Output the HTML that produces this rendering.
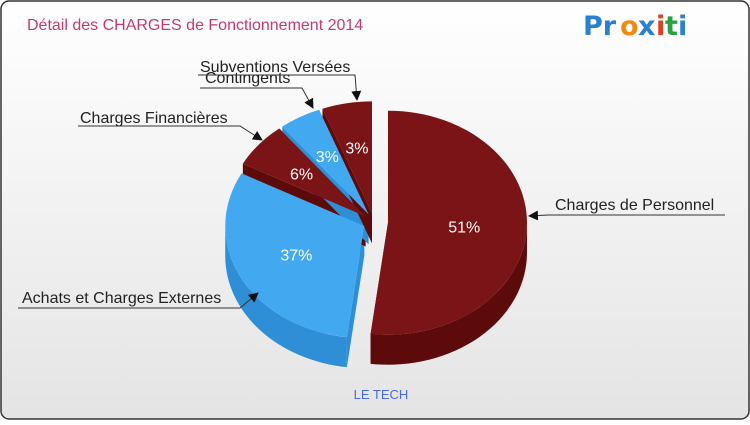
<!DOCTYPE html>
<html><head><meta charset="utf-8"><style>
body{margin:0;width:750px;height:420px;overflow:hidden;font-family:"Liberation Sans",sans-serif}
</style></head><body>
<svg id="chart" width="750" height="420" xmlns="http://www.w3.org/2000/svg">
<defs><linearGradient id="bg" x1="0" y1="0" x2="0" y2="1"><stop offset="0" stop-color="#ffffff"/><stop offset="1" stop-color="#e4e4e4"/></linearGradient>
<marker id="arr" markerWidth="10" markerHeight="10" refX="9" refY="5" orient="auto" markerUnits="userSpaceOnUse"><path d="M0,0 L10,5 L0,10 Z" fill="#111"/></marker></defs>
<rect x="1" y="1" width="748" height="418" rx="8" fill="url(#bg)" stroke="#333" stroke-width="1.5"/>
<text x="27" y="30" font-size="16" fill="#c33a72">Détail des CHARGES de Fonctionnement 2014</text>
<g font-size="27" font-weight="bold" font-family="'DejaVu Sans',sans-serif">
<text x="583" y="35" fill="#2a7fd0">Pr</text><text x="620" y="35" fill="#f08a10">o</text><text x="638" y="35" fill="#2a7fd0">x</text><text x="656" y="35" fill="#e04020">i</text><text x="665" y="35" fill="#2aa040">t</text><text x="678" y="35" fill="#2a7fd0">i</text></g>
<g id="slices"></g>
<g id="labels"></g>
<text x="381" y="399" font-size="13" fill="#4a6de0" text-anchor="middle">LE TECH</text>
</svg>
<script>
const categories=["Charges de Personnel","Achats et Charges Externes","Charges Financières","Contingents","Subventions Versées"];
const values=[51,37,6,3,3];
const pctLabels=["51%","37%","6%","3%","3%"];
const colors=["#7a1416","#42a9f0","#7a1416","#42a9f0","#7a1416"];
const sides=["#5c0a0a","#2f8fd6","#5c0a0a","#2f8fd6","#5c0a0a"];
const NS="http://www.w3.org/2000/svg";
const cx=374,cy=222,rx=139,ry=112,dep=30,K=0.5;
const total=values.reduce((a,b)=>a+b,0);
const g=document.getElementById('slices');
// perspective-like warp of data angle
function W(t){return Math.atan2(Math.sin(t)*K,Math.cos(t));}
function unwrap(t,ref){let w=W(t);while(w<ref-1e-9)w+=2*Math.PI;return w;}
function P(t,ox,oy){return [ox+cx+rx*Math.cos(t),oy+cy+ry*Math.sin(t)];}
function mk(d,fill,name){const p=document.createElementNS(NS,'path');p.setAttribute('d',d);p.setAttribute('fill',fill);


g.appendChild(p);return p;}
let a=-Math.PI/2;const sl=[];let prev=-Math.PI/2;
values.forEach((v,i)=>{const d0=a,d1=a+v/total*2*Math.PI;a=d1;
const a0=prev,a1=unwrap(d1,a0+1e-6);prev=a1;const m=(a0+a1)/2;const ex=i==0?14:11;
sl.push({a0,a1,m,ox:ex*Math.cos(m),oy:ex*Math.sin(m)*0.8});});
sl.forEach((s,i)=>{const{a0,a1,ox,oy}=s;const c=[cx+ox,cy+oy];
[a0,a1].forEach(t=>{const p=P(t,ox,oy);mk(`M${c[0]},${c[1]}L${p[0]},${p[1]}L${p[0]},${p[1]+dep}L${c[0]},${c[1]+dep}Z`,sides[i],'slice-wall-'+i);});
const lo=Math.max(a0,0),hi=Math.min(a1,Math.PI);
if(hi>lo){const p0=P(lo,ox,oy),p1=P(hi,ox,oy);
mk(`M${p0[0]},${p0[1]}A${rx},${ry} 0 0 1 ${p1[0]},${p1[1]}L${p1[0]},${p1[1]+dep}A${rx},${ry} 0 0 0 ${p0[0]},${p0[1]+dep}Z`,sides[i],'slice-side-'+i);}});
sl.forEach((s,i)=>{const{a0,a1,ox,oy}=s;const c=[cx+ox,cy+oy],p0=P(a0,ox,oy),p1=P(a1,ox,oy);const large=(a1-a0)>Math.PI?1:0;
mk(`M${c[0]},${c[1]}L${p0[0]},${p0[1]}A${rx},${ry} 0 ${large} 1 ${p1[0]},${p1[1]}Z`,colors[i],'slice-'+categories[i].toLowerCase().replace(/[^a-z]+/g,'-'));
const r=i<2?0.55:0.6;const t=P(s.m,ox,oy);const tx=cx+ox+(t[0]-cx-ox)*r,ty=cy+oy+(t[1]-cy-oy)*r;
const tt=document.createElementNS(NS,'text');tt.setAttribute('x',tx);tt.setAttribute('y',ty+6);tt.setAttribute('text-anchor','middle');tt.setAttribute('font-size','16');tt.setAttribute('fill','#fff');tt.textContent=pctLabels[i];


g.appendChild(tt);});
const L=document.getElementById('labels');
const callouts=[[555,210,"M725,215L548,215L529,216"],[22,303,"M18,308L240,308L258,293"],[80,123,"M78,126L240,126L262,140"],[205,83,"M200,88L302,88L313,108"],[200,72,"M198,75L355,75L357,100"]];
callouts.forEach((c,i)=>{const p=document.createElementNS(NS,'path');p.setAttribute('d',c[2]);p.setAttribute('fill','none');p.setAttribute('stroke','#333');p.setAttribute('marker-end','url(#arr)');


L.appendChild(p);
const t=document.createElementNS(NS,'text');t.setAttribute('x',c[0]);t.setAttribute('y',c[1]);t.setAttribute('font-size','16');t.setAttribute('fill','#222');t.textContent=categories[i];


L.appendChild(t);});
</script>
</body></html>
